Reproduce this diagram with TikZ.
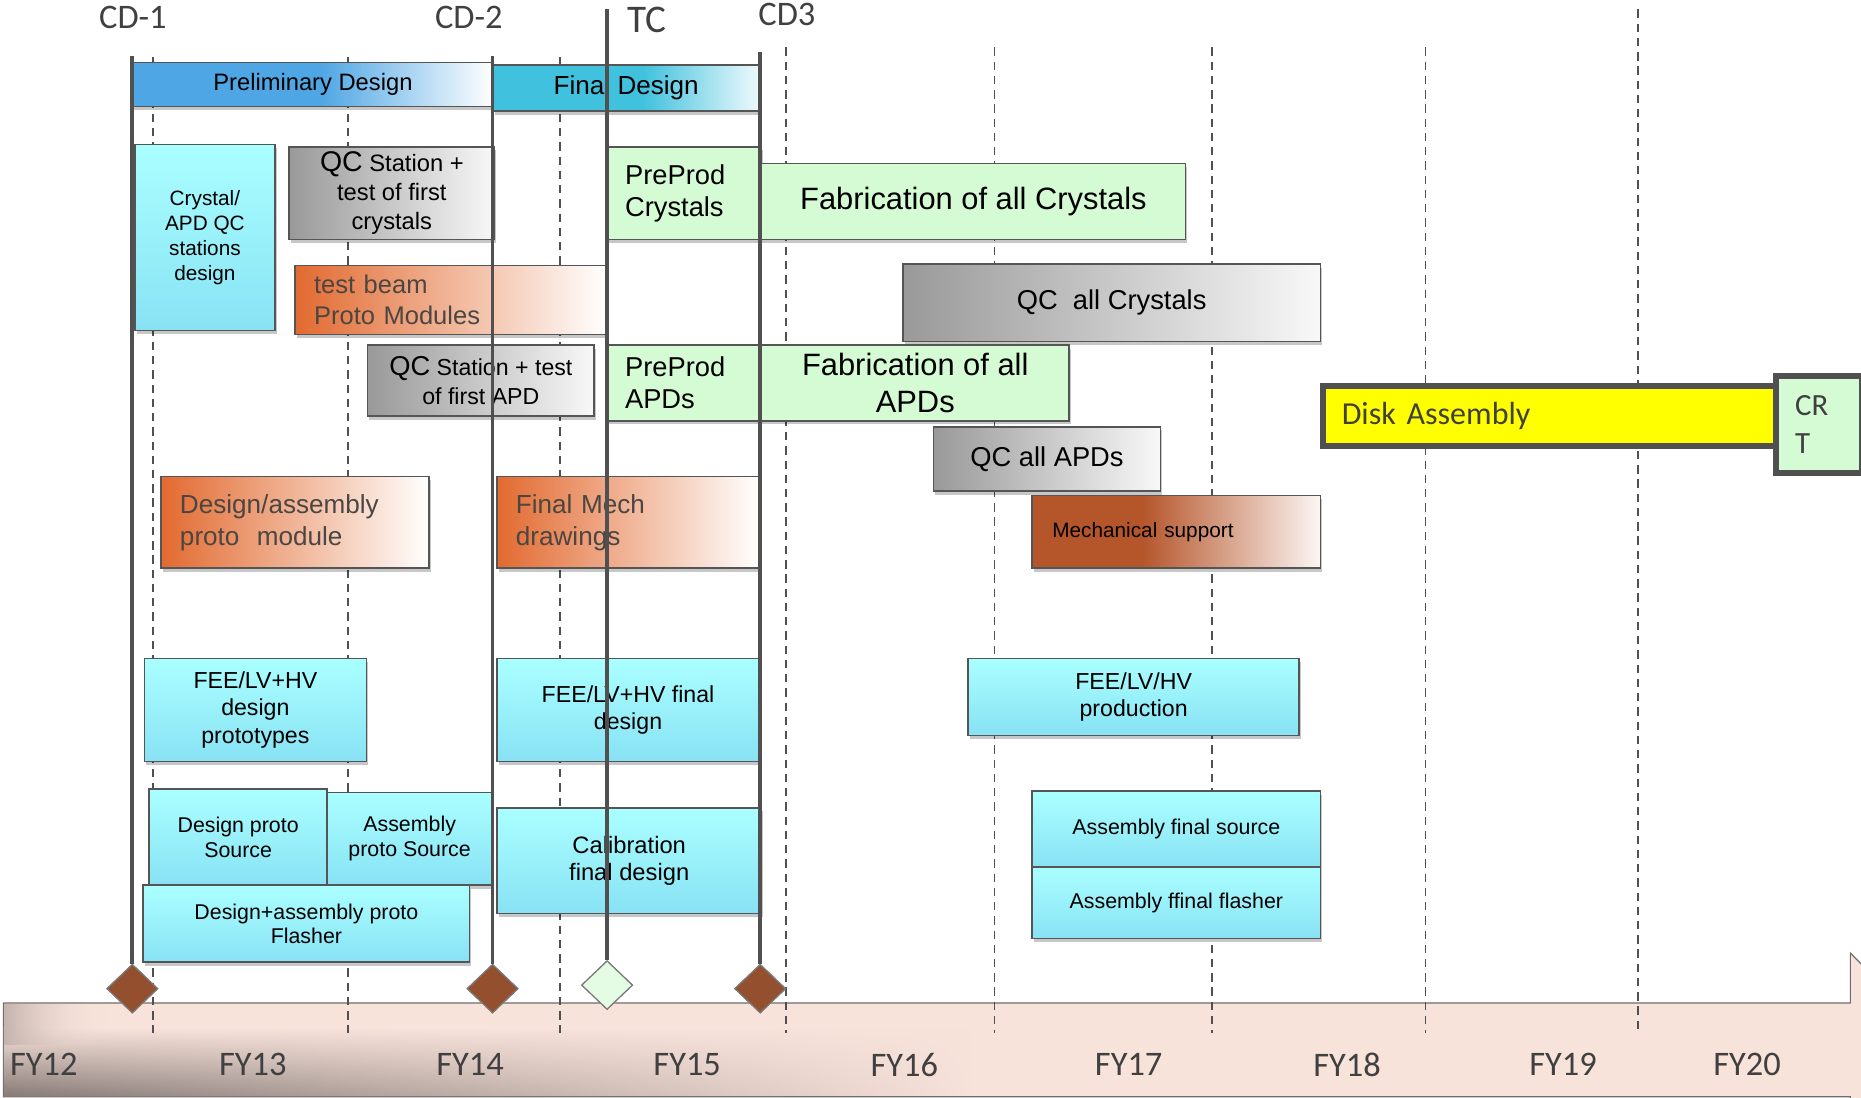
\documentclass[tikz,border=0pt]{standalone}
\usepackage{fontspec}
\setmainfont{Liberation Sans}
\newfontfamily\calib{Carlito}
\usetikzlibrary{shapes.geometric,shadows,fadings}

\definecolor{prelimblue}{HTML}{4FA6E4}
\definecolor{finalcyan}{HTML}{40C1DE}
\definecolor{finalend}{HTML}{EEF9FC}
\definecolor{mechbrown}{HTML}{B5552A}
\definecolor{mechend}{HTML}{FCF6F4}
\definecolor{orangeA}{HTML}{E26A30}
\definecolor{grayA}{HTML}{999999}
\definecolor{grayB}{HTML}{F8F8F8}
\definecolor{cyanTop}{HTML}{AAFFFF}
\definecolor{cyanBot}{HTML}{88E2F4}
\definecolor{lgreen}{HTML}{D4FBD4}
\definecolor{lgreendiam}{HTML}{E4FBE4}
\definecolor{bandpink}{HTML}{F8E3DB}
\definecolor{bandshadow}{HTML}{877B77}
\definecolor{bandborder}{HTML}{6E6E6E}
\definecolor{linegray}{HTML}{505050}
\definecolor{boxborder}{HTML}{555555}
\definecolor{diambrown}{HTML}{944F2E}
\definecolor{diamborder}{HTML}{7A7A7A}
\definecolor{labelgray}{HTML}{404040}
\definecolor{orangetext}{HTML}{4B4642}
\definecolor{diskyellow}{HTML}{FFFF00}

\pgfdeclarehorizontalshading{prelimsh}{100bp}{color(0bp)=(prelimblue); color(25bp)=(prelimblue); color(51bp)=(prelimblue); color(75bp)=(white); color(100bp)=(white)}
\pgfdeclarehorizontalshading{finalsh}{100bp}{color(0bp)=(finalcyan); color(25bp)=(finalcyan); color(53bp)=(finalcyan); color(75bp)=(finalend); color(100bp)=(finalend)}
\pgfdeclarehorizontalshading{mechsh}{100bp}{color(0bp)=(mechbrown); color(25bp)=(mechbrown); color(44bp)=(mechbrown); color(75bp)=(mechend); color(100bp)=(mechend)}

\newcommand{\fsz}[2]{\fontsize{#1pt}{#2pt}\selectfont}

\begin{document}
\begin{tikzpicture}[x=1pt,y=-1pt,
  box/.style={draw=boxborder, line width=1.3pt, inner sep=0pt, align=center, anchor=north west, text=black,
    drop shadow={shadow xshift=1.5pt, shadow yshift=-3pt, opacity=0.22, fill=black}},
  cyanbox/.style={top color=cyanTop, bottom color=cyanBot},
  greenbox/.style={fill=lgreen},
  graybox/.style={left color=grayA, right color=grayB},
  orangebox/.style={left color=orangeA, right color=white, text=orangetext},
  thickbox/.style={draw=linegray, line width=5pt, inner sep=0pt, anchor=north west, text=labelgray, font=\calib},
  dashline/.style={draw=linegray, line width=1.4pt, dash pattern=on 7pt off 5pt},
  mline/.style={draw=linegray, line width=3.2pt},
  mstone/.style={diamond, draw=diamborder, line width=1pt, fill=diambrown, minimum width=43pt, minimum height=41pt, inner sep=0pt},
  mlabel/.style={font=\calib\fsz{29}{29}, text=labelgray, inner sep=0pt},
  fylabel/.style={font=\calib\fsz{29}{29}, text=labelgray, inner sep=0pt}
]
\useasboundingbox (0,0) rectangle (1568,925);

% ---------- bottom band ----------
\path[draw=bandborder, line width=1pt, fill=bandpink]
  (3,845) -- (1559,845) -- (1559,803) -- (1640,884) -- (1559,965) -- (1559,924) -- (3,924) -- cycle;
\shade[top color=bandpink, bottom color=bandshadow, path fading=east] (3.5,866) rectangle (820,923.5);
\shade[left color=bandshadow!45!bandpink, right color=bandpink, path fading=east] (3.5,846) rectangle (90,880);

% ---------- dashed year lines ----------
\foreach \i/\xx/\tt in {1/129/48, 2/293/48, 3/472/48, 4/662/40, 5/838/40, 6/1021/40, 7/1201/40, 8/1380/8} {
  \coordinate (dt\i) at (\xx,\tt);
  \coordinate (db\i) at (\xx,870);
  \draw[dashline] (dt\i) -- (db\i);
}

% ---------- top row ----------
\node[box, shade, shading=prelimsh, minimum width=304pt, minimum height=37pt, font=\fsz{20}{24}] (prelim) at (111,52) {Preliminary Design};
\node[box, shade, shading=finalsh, minimum width=224pt, minimum height=39pt, font=\fsz{22}{26}] (final) at (415,54) {Final Design};

% ---------- crystals ----------
\node[box, cyanbox, minimum width=118pt, minimum height=157pt, font=\fsz{17.5}{21}] (crystal) at (113,121) {Crystal/\\APD QC\\stations\\design};
\node[box, graybox, minimum width=173pt, minimum height=78pt, font=\fsz{20}{24.5}] (qcstc) at (243,123) {{\fsz{24}{24}QC} Station +\\test of first\\crystals};
\node[box, orangebox, minimum width=262pt, minimum height=58pt, inner xsep=16pt, text width=230pt, align=left, font=\fsz{21.5}{26}] (beam) at (248,223) {test beam\\Proto Modules};
\node[box, graybox, minimum width=191pt, minimum height=60pt, font=\fsz{19.5}{24}] (qcapd) at (309,290) {{\fsz{23}{23}QC} Station + test\\of first APD};
\node[box, greenbox, minimum width=130pt, minimum height=78pt, inner xsep=15pt, text width=100pt, align=left, font=\fsz{23}{27}] (ppcry) at (511,123) {PreProd\\Crystals};
\node[box, greenbox, minimum width=357pt, minimum height=64pt, font=\fsz{26}{31}] (fabcry) at (641,137) {Fabrication of all Crystals};
\node[box, graybox, minimum width=352pt, minimum height=65pt, font=\fsz{23}{27}] (qcallcry) at (760,222) {QC~ all Crystals};
\node[box, greenbox, minimum width=130pt, minimum height=64pt, inner xsep=15pt, text width=100pt, align=left, font=\fsz{23}{27}] (ppapd) at (511,290) {PreProd\\APDs};
\node[box, greenbox, minimum width=259pt, minimum height=64pt, font=\fsz{26}{31}] (fabapd) at (641,290) {Fabrication of all\\APDs};
\node[box, graybox, minimum width=191pt, minimum height=54pt, font=\fsz{23}{27}] (qcallapd) at (786,359) {QC all APDs};

% ---------- disk assembly ----------
\node[thickbox, fill=diskyellow, minimum width=382pt, minimum height=50pt, inner xsep=16pt, text width=350pt, align=left, font=\calib\fsz{27}{30}] (disk) at (1112,323) {Disk Assembly};
\node[thickbox, fill=lgreen, minimum width=72pt, minimum height=82pt, inner xsep=16pt, text width=40pt, align=left, font=\calib\fsz{26}{32}] (crt) at (1494,314) {CR\\T};

% ---------- mechanics ----------
\node[box, orangebox, minimum width=226pt, minimum height=77pt, inner xsep=16pt, text width=194pt, align=left, font=\fsz{22}{27}] (dam) at (135,401) {Design/assembly\\proto~ module};
\node[box, orangebox, minimum width=221pt, minimum height=77pt, inner xsep=16pt, text width=189pt, align=left, font=\fsz{22}{27}] (fmech) at (418,401) {Final Mech\\drawings};
\node[box, shade, shading=mechsh, minimum width=243pt, minimum height=61pt, inner xsep=17pt, text width=209pt, align=left, font=\fsz{17.5}{21}] (mech) at (869,417) {Mechanical support};

% ---------- electronics ----------
\node[box, cyanbox, minimum width=187pt, minimum height=87pt, font=\fsz{19.5}{23.5}] (feeproto) at (121,554) {FEE/LV+HV\\design\\prototypes};
\node[box, cyanbox, minimum width=221pt, minimum height=87pt, font=\fsz{19.5}{23}] (feefinal) at (418,554) {FEE/LV+HV final\\design};
\node[box, cyanbox, minimum width=279pt, minimum height=65pt, font=\fsz{19.5}{23}] (feeprod) at (815,554) {FEE/LV/HV\\production};

% ---------- calibration ----------
\node[box, cyanbox, minimum width=150pt, minimum height=81pt, font=\fsz{18}{21}] (dpsrc) at (125,664) {Design proto\\Source};
\node[box, cyanbox, minimum width=139pt, minimum height=78pt, font=\fsz{18}{21}] (apsrc) at (275,667) {Assembly\\proto Source};
\node[box, cyanbox, minimum width=275pt, minimum height=65pt, font=\fsz{18}{20}] (dafl) at (120,745) {Design+assembly proto\\Flasher};
\node[box, cyanbox, minimum width=223pt, minimum height=89pt, font=\fsz{20}{23}] (calib) at (418,680) {Calibration\\final design};
\node[box, cyanbox, minimum width=243pt, minimum height=64pt, font=\fsz{18}{21}] (afsrc) at (869,666) {Assembly final source};
\node[box, cyanbox, minimum width=243pt, minimum height=60pt, font=\fsz{18}{21}] (afflash) at (869,730) {Assembly ffinal flasher};

% ---------- milestones ----------
\node[mstone] (m1) at (111.5,833) {};
\node[mstone] (m2) at (415,833) {};
\node[mstone, fill=lgreendiam] (m3) at (511.5,830) {};
\node[mstone] (m4) at (640.5,833) {};

\coordinate (cd1top) at (111.5,47);
\coordinate (cd2top) at (415,47);
\coordinate (tctop) at (511.5,8);
\coordinate (cd3top) at (640.5,44);
\draw[mline] (cd1top) -- (m1.north);
\draw[mline] (cd2top) -- (m2.north);
\draw[mline] (tctop) -- (m3.north);
\draw[mline] (cd3top) -- (m4.north);

\node[mstone] at (m1) {};
\node[mstone] at (m2) {};
\node[mstone, fill=lgreendiam] at (m3) {};
\node[mstone] at (m4) {};

\node[mlabel] (lcd1) at (112,15) {CD-1};
\node[mlabel] (lcd2) at (395,15) {CD-2};
\node[mlabel, font=\calib\fsz{33}{33}] (ltc) at (545,17) {TC};
\node[mlabel] (lcd3) at (663,12) {CD3};

% ---------- fiscal years ----------
\node[fylabel] (fy12) at (37,897) {FY12};
\node[fylabel] (fy13) at (213,897) {FY13};
\node[fylabel] (fy14) at (396,897) {FY14};
\node[fylabel] (fy15) at (579,897) {FY15};
\node[fylabel] (fy16) at (762,897) {FY16};
\node[fylabel] (fy17) at (951,897) {FY17};
\node[fylabel] (fy18) at (1135,897) {FY18};
\node[fylabel] (fy19) at (1317,897) {FY19};
\node[fylabel] (fy20) at (1472,897) {FY20};
\end{tikzpicture}
\end{document}
